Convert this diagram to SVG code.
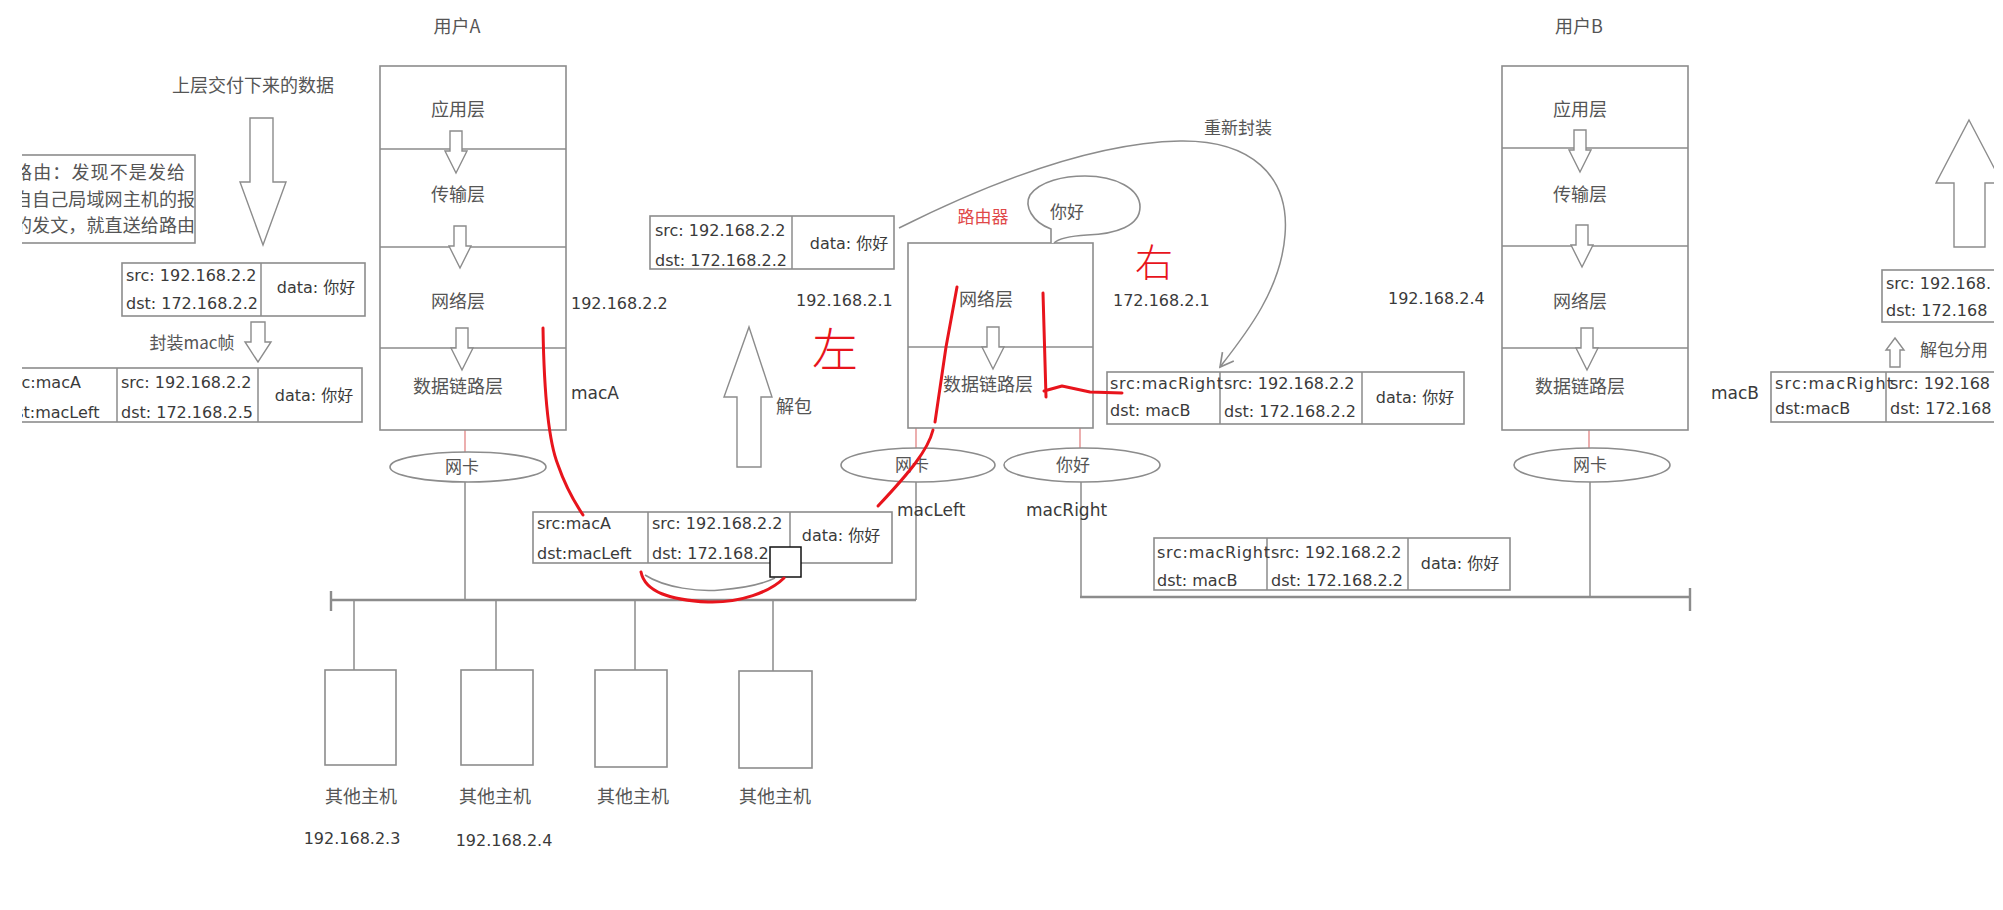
<svg xmlns="http://www.w3.org/2000/svg" width="2003" height="910" viewBox="0 0 2003 910">
<defs>
<style>
.bx{fill:none;stroke:#8c8c8c;stroke-width:1.6}
.bw{fill:#fff;stroke:#8c8c8c;stroke-width:1.6}
.ln{stroke:#8c8c8c;stroke-width:1.5;fill:none}
.bus{stroke:#8c8c8c;stroke-width:2.4;fill:none}
.rl{stroke:#e07a7a;stroke-width:1.2}
.red{stroke:#e8141c;stroke-width:3;fill:none;stroke-linecap:round;stroke-linejoin:round}
.cj{font-family:"Noto Sans CJK SC",sans-serif;font-size:18px;fill:#555}
.t{font-family:"DejaVu Sans","Noto Sans CJK SC",sans-serif;font-size:16px;fill:#3a3a3a}
.m{font-family:"DejaVu Sans",sans-serif;font-size:17px;fill:#3a3a3a}
.c{text-anchor:middle}
.arr{fill:#fff;stroke:#8c8c8c;stroke-width:1.4}
.hw{font-family:"Noto Sans CJK SC",sans-serif;font-weight:300;fill:#e8141c}
</style>
<path id="sa" d="M-6,0H6V20H11L0,42L-11,20H-6Z"/>
<marker id="ah" markerUnits="userSpaceOnUse" markerWidth="24" markerHeight="24" viewBox="-14 -10 16 20" refX="0" refY="0" orient="auto">
<path d="M-11,-6L0,0L-11,6" fill="none" stroke="#8c8c8c" stroke-width="1.4"/>
</marker>
</defs>
<rect width="2003" height="910" fill="#fff"/>

<g id="connectors">
<path class="bus" d="M331,600H916M331,591V611"/>
<path class="bus" d="M1080,597H1690M1690,588V611"/>
<path class="ln" d="M465,482V600M916,482V600M354,600V670M496,600V670M635,600V670M773,600V671M1081,482V597M1590,482V597"/>
<path class="rl" d="M465,430V452M916,428V448M1080,428V448M1589,430V448"/>
<path class="ln" d="M899,228C965,195 1080,143 1180,141C1250,140 1290,175 1285,235C1281,290 1245,335 1220,367" marker-end="url(#ah)"/>
<path class="ln" d="M645,575C665,588 700,592 720,590C745,588 765,583 775,578"/>
</g>

<g id="userA">
<text class="cj c" x="457" y="33">用户A</text>
<rect class="bx" x="380" y="66" width="186" height="364"/>
<path class="ln" d="M380,149H566M380,247H566M380,348H566"/>
<text class="cj c" x="458" y="116">应用层</text>
<text class="cj c" x="458" y="201">传输层</text>
<text class="cj c" x="458" y="308">网络层</text>
<text class="cj c" x="458" y="393">数据链路层</text>
<use href="#sa" class="arr" x="456" y="131"/>
<use href="#sa" class="arr" x="460" y="226"/>
<use href="#sa" class="arr" x="462" y="328"/>
<text class="t" x="571" y="309">192.168.2.2</text>
<text class="m" x="571" y="399">macA</text>
</g>

<g id="nicA">
<ellipse class="bw" cx="468" cy="467" rx="78" ry="15"/>
<text class="cj c" x="462" y="473" style="font-size:17px">网卡</text>
</g>

<g id="router">
<text class="cj c" x="983" y="223" style="font-size:17px;fill:#e04848">路由器</text>
<rect class="bx" x="908" y="243" width="185" height="185"/>
<path class="ln" d="M908,347H1093"/>
<text class="cj c" x="986" y="306">网络层</text>
<text class="cj c" x="988" y="391">数据链路层</text>
<use href="#sa" class="arr" x="993" y="327"/>
<path class="bw" d="M1051,243V229C1032,222 1024,206 1030,195C1040,181 1064,176 1085,176C1116,176 1140,189 1140,207C1140,226 1116,234 1087,235C1071,236 1059,238 1054,243"/>
<text class="cj c" x="1067" y="218" style="font-size:17px">你好</text>
<text class="t" x="796" y="306">192.168.2.1</text>
<text class="t" x="1113" y="306">172.168.2.1</text>
<text class="cj c" x="1238" y="134" style="font-size:17px">重新封装</text>
</g>

<g id="nicRouterLeft">
<ellipse class="bw" cx="918" cy="465" rx="77" ry="17"/>
<text class="cj c" x="912" y="471" style="font-size:17px">网卡</text>
<text class="m" x="897" y="516">macLeft</text>
</g>

<g id="nicRouterRight">
<ellipse class="bw" cx="1082" cy="465" rx="78" ry="17"/>
<text class="cj c" x="1073" y="471" style="font-size:17px">你好</text>
<text class="m" x="1026" y="516">macRight</text>
</g>

<g id="userB">
<text class="cj c" x="1579" y="33">用户B</text>
<rect class="bx" x="1502" y="66" width="186" height="364"/>
<path class="ln" d="M1502,148H1688M1502,246H1688M1502,348H1688"/>
<text class="cj c" x="1580" y="116">应用层</text>
<text class="cj c" x="1580" y="201">传输层</text>
<text class="cj c" x="1580" y="308">网络层</text>
<text class="cj c" x="1580" y="393">数据链路层</text>
<use href="#sa" class="arr" x="1580" y="130"/>
<use href="#sa" class="arr" x="1582" y="225"/>
<use href="#sa" class="arr" x="1587" y="328"/>
<text class="t" x="1388" y="304">192.168.2.4</text>
<text class="m" x="1711" y="399">macB</text>
</g>

<g id="nicB">
<ellipse class="bw" cx="1592" cy="465" rx="78" ry="17"/>
<text class="cj c" x="1590" y="471" style="font-size:17px">网卡</text>
</g>

<g id="hosts">
<rect class="bx" x="325" y="670" width="71" height="95"/>
<rect class="bx" x="461" y="670" width="72" height="95"/>
<rect class="bx" x="595" y="670" width="72" height="97"/>
<rect class="bx" x="739" y="671" width="73" height="97"/>
<text class="cj c" x="361" y="803">其他主机</text>
<text class="cj c" x="495" y="803">其他主机</text>
<text class="cj c" x="633" y="803">其他主机</text>
<text class="cj c" x="775" y="803">其他主机</text>
<text class="t c" x="352" y="844">192.168.2.3</text>
<text class="t c" x="504" y="846">192.168.2.4</text>
</g>

<g id="leftNote">
<text class="cj c" x="253" y="92">上层交付下来的数据</text>
<path class="arr" d="M250,118H273V182H286L263,245L240,182H250Z"/>
<rect class="bx" x="-5" y="155" width="200" height="88"/>
<text class="cj" x="14" y="179" textLength="171">路由：发现不是发给</text>
<text class="cj" x="14" y="206" textLength="181">自自己局域网主机的报</text>
<text class="cj" x="14" y="232" textLength="181">的发文，就直送给路由</text>
</g>

<g id="packetA1">
<rect class="bx" x="122" y="263" width="243" height="53"/>
<path class="ln" d="M261,263V316"/>
<text class="t" x="126" y="281">src: 192.168.2.2</text>
<text class="t" x="126" y="309">dst: 172.168.2.2</text>
<text class="t c" x="316" y="293">data: 你好</text>
<path class="arr" d="M251,322H265V342H271L258,362L245,342H251Z"/>
<text class="cj c" x="192" y="349" style="font-size:17px">封装mac帧</text>
</g>

<g id="packetA2">
<rect class="bx" x="-5" y="368" width="367" height="54"/>
<path class="ln" d="M117,368V422M258,368V422"/>
<text class="t" x="7" y="388">src:macA</text>
<text class="t" x="5" y="418">dst:macLeft</text>
<text class="t" x="121" y="388">src: 192.168.2.2</text>
<text class="t" x="121" y="418">dst: 172.168.2.5</text>
<text class="t c" x="314" y="401">data: 你好</text>
</g>

<g id="packetMidUp">
<rect class="bx" x="650" y="216" width="244" height="53"/>
<path class="ln" d="M792,216V269"/>
<text class="t" x="655" y="236">src: 192.168.2.2</text>
<text class="t" x="655" y="266">dst: 172.168.2.2</text>
<text class="t c" x="849" y="249">data: 你好</text>
<path class="arr" d="M749,327L772,397H761V467H737V397H724Z"/>
<text class="cj" x="776" y="413">解包</text>
</g>

<g id="packetMidLow">
<rect class="bx" x="533" y="512" width="359" height="51"/>
<path class="ln" d="M648,512V563M790,512V563"/>
<text class="t" x="537" y="529">src:macA</text>
<text class="t" x="537" y="559">dst:macLeft</text>
<text class="t" x="652" y="529">src: 192.168.2.2</text>
<text class="t" x="652" y="559">dst: 172.168.2.2</text>
<text class="t c" x="841" y="541">data: 你好</text>
<rect x="770" y="547" width="31" height="30" fill="#fff" stroke="#111" stroke-width="1.5"/>
</g>

<g id="packetRouterOut">
<rect class="bx" x="1107" y="372" width="357" height="52"/>
<path class="ln" d="M1220,372V424M1362,372V424"/>
<text class="t" x="1110" y="389" textLength="113">src:macRight</text>
<text class="t" x="1110" y="416">dst: macB</text>
<text class="t" x="1224" y="389">src: 192.168.2.2</text>
<text class="t" x="1224" y="417">dst: 172.168.2.2</text>
<text class="t c" x="1415" y="403">data: 你好</text>
</g>

<g id="packetBus">
<rect class="bx" x="1154" y="538" width="356" height="52"/>
<path class="ln" d="M1267,538V590M1408,538V590"/>
<text class="t" x="1157" y="558" textLength="113">src:macRight</text>
<text class="t" x="1157" y="586">dst: macB</text>
<text class="t" x="1271" y="558">src: 192.168.2.2</text>
<text class="t" x="1271" y="586">dst: 172.168.2.2</text>
<text class="t c" x="1460" y="569">data: 你好</text>
</g>

<g id="packetB">
<rect class="bx" x="1771" y="372" width="240" height="50"/>
<path class="ln" d="M1886,372V422"/>
<text class="t" x="1775" y="389" textLength="118">src:macRight</text>
<text class="t" x="1775" y="414">dst:macB</text>
<text class="t" x="1890" y="389">src: 192.168</text>
<text class="t" x="1890" y="414">dst: 172.168</text>
<path class="arr" d="M1895,338L1904,350H1900V367H1890V350H1886Z"/>
<text class="cj" x="1920" y="356" style="font-size:17px">解包分用</text>
<rect class="bx" x="1882" y="270" width="130" height="52"/>
<text class="t" x="1886" y="289">src: 192.168.</text>
<text class="t" x="1886" y="316">dst: 172.168</text>
<path class="arr" d="M1969,120L2002,183H1985V247H1954V183H1936Z"/>
</g>

<rect x="0" y="140" width="22" height="300" fill="#fff"/>
<rect x="1994" y="0" width="9" height="910" fill="#fff"/>

<g id="annotations">
<path class="red" d="M543,328C544,390 548,440 558,465C566,488 575,503 583,515"/>
<path class="red" d="M957,287L946,347L935,422"/>
<path class="red" d="M933,430C928,450 910,472 878,506"/>
<path class="red" d="M1043,293L1046,397M1044,391L1062,386L1090,392L1122,393"/>
<path class="red" d="M641,572C645,592 670,600 708,602C740,603 770,592 784,578"/>
<text class="hw c" x="835" y="366" font-size="46">左</text>
<text class="hw c" x="1154" y="276" font-size="38">右</text>
</g>
</svg>
